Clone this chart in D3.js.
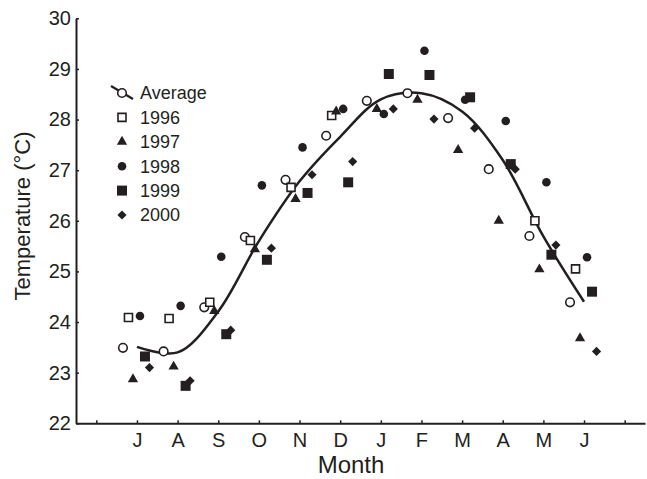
<!DOCTYPE html>
<html>
<head>
<meta charset="utf-8">
<script src="https://cdn.jsdelivr.net/npm/d3@7"></script>
<style>
  body { margin: 0; background: #fff; }
  text { font-family: "Liberation Sans", Arial, Helvetica, sans-serif; fill: #231f20; }
</style>
</head>
<body>
<script>
// months July..June, plus an unlabelled tick at each end of the axis
var monthLabels = ["J", "A", "S", "O", "N", "D", "J", "F", "M", "A", "M", "J"];
var tickLabels = [""].concat(monthLabels, [""]);
var yTicks = [22, 23, 24, 25, 26, 27, 28, 29, 30];

var seriesNames = ["Average", "1996", "1997", "1998", "1999", "2000"];
var average = [23.49, 23.42, 24.29, 25.68, 26.81, 27.68, 28.37, 28.52, 28.03, 27.02, 25.70, 24.39];
var y1996 = [24.09, 24.07, 24.39, 25.61, 26.66, 28.08, null, null, null, null, 26.00, 25.05];
var y1997 = [22.87, 23.12, 24.22, 25.44, 26.43, 28.16, 28.21, 28.39, 27.40, 26.00, 25.04, 23.68];
var y1998 = [24.12, 24.32, 25.29, 26.70, 27.45, 28.21, 28.11, 29.36, 28.39, 27.97, 26.76, 25.28];
var y1999 = [23.32, 22.74, 23.76, 25.23, 26.55, 26.76, 28.90, 28.88, 28.44, 27.12, 25.33, 24.60];
var y2000 = [23.10, 22.84, 23.84, 25.46, 26.91, 27.17, 28.21, 28.01, 27.83, 27.02, 25.52, 23.42];
// smoothed fit of the average, read at each month tick
var fitted = [23.51, 23.40, 24.21, 25.60, 26.78, 27.66, 28.40, 28.52, 28.16, 27.20, 25.69, 24.40];

var seriesValues = [average, y1996, y1997, y1998, y1999, y2000];

var width = 647, height = 479;
var ink = "#231f20";

var x = d3.scaleLinear().domain([0, 14]).range([76, 645]);
var y = d3.scaleLinear().domain([22, 30]).range([423.3, 18.3]);
// small horizontal shift of each series inside a month
var dodge = d3.scaleOrdinal().domain(seriesNames).range([-14, -8.5, -4, 3, 8, 12.5]);

var svg = d3.select("body").append("svg")
    .attr("width", width)
    .attr("height", height);

// symbols
var shapes = {
  "Average": { type: d3.symbolCircle, size: 58, open: true },
  "1996": { type: d3.symbolSquare, size: 64, open: true },
  "1997": { type: d3.symbolTriangle, size: 46, open: false },
  "1998": { type: d3.symbolCircle, size: 58, open: false },
  "1999": { type: d3.symbolSquare, size: 100, open: false },
  "2000": { type: d3.symbolSquare, size: 42, open: false, rotate: 45 }
};

function drawSymbol(sel, name) {
  var s = shapes[name];
  sel.attr("d", d3.symbol().type(s.type).size(s.size)())
    .attr("fill", s.open ? "#fff" : ink)
    .attr("stroke", s.open ? ink : "none")
    .attr("stroke-width", s.open ? 1.6 : 0);
}

// axes
var yAxis = d3.axisLeft(y)
    .tickValues(yTicks)
    .tickSizeInner(-3)
    .tickSizeOuter(0)
    .tickPadding(5);

var xAxis = d3.axisBottom(x)
    .tickValues(d3.range(0.5, 14, 1))
    .tickFormat(function(d, i){ return tickLabels[i]; })
    .tickSizeInner(-3)
    .tickSizeOuter(0)
    .tickPadding(10);

svg.append("g")
    .attr("transform", "translate(" + x(0) + ",0)")
    .call(yAxis);

svg.append("g")
    .attr("transform", "translate(0," + y(22) + ")")
    .call(xAxis);

svg.selectAll(".domain").attr("stroke", ink).attr("stroke-width", 2);
svg.selectAll(".tick line").attr("stroke", ink).attr("stroke-width", 1.5);
svg.selectAll(".tick text")
    .attr("font-size", 20)
    .attr("font-family", null)
    .attr("fill", ink);

// fitted curve
var line = d3.line()
    .x(function(d, i){ return x(i + 1.5); })
    .y(function(d){ return y(d); })
    .curve(d3.curveCatmullRom.alpha(0.5));

svg.append("path")
    .datum(fitted)
    .attr("d", line)
    .attr("fill", "none")
    .attr("stroke", ink)
    .attr("stroke-width", 2.5);

// points
seriesNames.forEach(function(name, k){
  var pts = seriesValues[k]
    .map(function(v, i){ return { i: i, v: v }; })
    .filter(function(d){ return d.v != null; });
  svg.append("g")
    .selectAll("path")
    .data(pts)
    .enter()
      .append("path")
      .attr("transform", function(d){
        var r = shapes[name].rotate ? " rotate(" + shapes[name].rotate + ")" : "";
        return "translate(" + (x(d.i + 1.5) + dodge(name)) + "," + y(d.v) + ")" + r;
      })
      .call(drawSymbol, name);
});

// legend
var legend = svg.append("g").attr("transform", "translate(122,93)");
var rows = legend.selectAll("g")
    .data(seriesNames)
    .enter()
      .append("g")
      .attr("transform", function(d, i){ return "translate(0," + i * 24.4 + ")"; });

rows.filter(function(d){ return d === "Average"; })
    .append("line")
    .attr("x1", -11).attr("y1", -7)
    .attr("x2", 11).attr("y2", 6)
    .attr("stroke", ink)
    .attr("stroke-width", 2.2);

rows.append("path")
    .attr("transform", function(d){
      return shapes[d].rotate ? "rotate(" + shapes[d].rotate + ")" : null;
    })
    .each(function(d){ d3.select(this).call(drawSymbol, d); });

rows.append("text")
    .attr("x", 18)
    .attr("dy", "0.35em")
    .attr("font-size", 18)
    .text(function(d){ return d; });

// axis titles
svg.append("text")
    .attr("x", 351)
    .attr("y", 473)
    .attr("text-anchor", "middle")
    .attr("font-size", 24)
    .text("Month");

svg.append("text")
    .attr("transform", "translate(30,216) rotate(-90)")
    .attr("text-anchor", "middle")
    .attr("font-size", 22)
    .text("Temperature (°C)");
</script>
</body>
</html>
